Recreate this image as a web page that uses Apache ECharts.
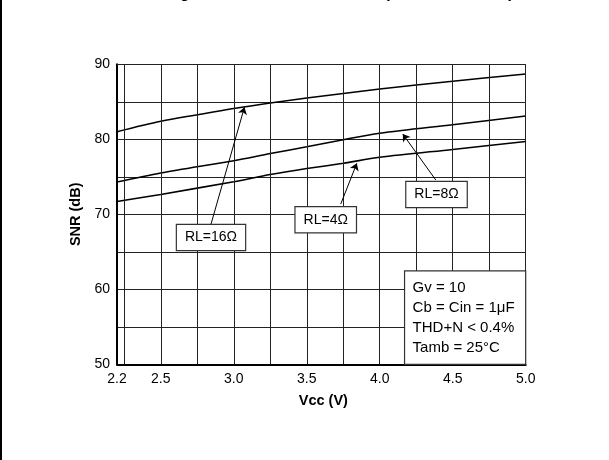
<!DOCTYPE html>
<html>
<head>
<meta charset="utf-8">
<script src="https://cdn.jsdelivr.net/npm/echarts@6/dist/echarts.min.js"></script>
<style>
html,body{margin:0;padding:0;background:#fff;}
#c{width:609px;height:460px;}
</style>
</head>
<body>
<div id="c"></div>
<script>
// ---- data ----
var vcc = [2.2, 2.5, 3.0, 3.25, 3.5, 3.75, 4.0, 4.5, 5.0];
var snrRL16 = [81.0, 82.4, 84.1, 84.85, 85.5, 86.1, 86.7, 87.75, 88.7];
var snrRL8  = [74.3, 75.5, 77.15, 78.1, 79.0, 79.95, 80.8, 81.95, 83.1];
var snrRL4  = [71.7, 72.65, 74.35, 75.3, 76.1, 76.8, 77.6, 78.65, 79.7];
var xTickLabels = [2.2, 2.5, 3.0, 3.5, 4.0, 4.5, 5.0];
var xGridValues = [2.25, 2.5, 2.75, 3.0, 3.25, 3.5, 3.75, 4.0, 4.25, 4.5, 4.75];
var yMin = 50, yMax = 90, yStep = 5;
var labelTexts = ['RL=16\u03A9', 'RL=4\u03A9', 'RL=8\u03A9'];
var infoLines = ['Gv = 10', 'Cb = Cin = 1\u03BCF', 'THD+N < 0.4%', 'Tamb = 25\u00B0C'];
var titleText = 'Signal to Noise Ratio vs Vcc (All Load Values)';

// ---- annotation placement (data coords) ----
var labelPos = [[2.844, 66.9], [3.630, 69.28], [4.389, 72.64]];
var arrows = [
  [[2.844, 68.7], [3.073, 84.27]],
  [[3.733, 71.37], [3.843, 76.8]],
  [[4.384, 74.57], [4.158, 80.7]]
];
var infoBox = [[4.17, 62.45], [5.0, 50]];

function pairs(xs, ys){ return xs.map(function(x,i){return [x, ys[i]];}); }

var FONT = 'Liberation Sans, Arial, sans-serif';
var chart = echarts.init(document.getElementById('c'), null, {renderer:'canvas'});

var lineStyle = {color:'#000', width:1.6};
var option = {
  animation:false,
  backgroundColor:'#fff',
  textStyle:{fontFamily:FONT},
  grid:{left:117, right:83.3, top:64.3, bottom:95.7, containLabel:false},
  xAxis:{
    type:'value', min:2.2, max:5.0,
    axisLine:{show:true, onZero:false, lineStyle:{color:'#000', width:2}},
    axisTick:{show:false},
    splitLine:{show:false},
    axisLabel:{customValues:xTickLabels, color:'#000', fontSize:14, margin:8, fontFamily:FONT,
      formatter:function(v){return v.toFixed(1);}},
    name:'Vcc (V)', nameLocation:'middle', nameGap:29,
    nameTextStyle:{fontWeight:'bold', fontSize:14.5, color:'#000', fontFamily:FONT, padding:[0,0,0,4]}
  },
  yAxis:{
    type:'value', min:yMin, max:yMax, interval:yStep,
    axisLine:{show:true, lineStyle:{color:'#000', width:2}},
    axisTick:{show:false},
    splitLine:{show:true, lineStyle:{color:'#222', width:1}},
    axisLabel:{color:'#000', fontSize:14, margin:7, fontFamily:FONT,
      formatter:function(v){return v % 10 === 0 ? String(v) : '';}},
    name:'SNR (dB)', nameLocation:'middle', nameGap:20, nameRotate:90,
    nameTextStyle:{fontWeight:'bold', fontSize:14.5, color:'#000', fontFamily:FONT}
  },
  series:[
    {
      type:'line', data:[], silent:true, z:1,
      markLine:{
        silent:true, symbol:['none','none'], animation:false,
        label:{show:false},
        lineStyle:{color:'#222', width:1, type:'solid'},
        data: xGridValues.map(function(v){return {xAxis:v};}).concat([{yAxis:yMax}, {xAxis:5.0}])
      }
    },
    {type:'line', name:'RL=16', data:pairs(vcc, snrRL16), symbol:'none', smooth:0.3, lineStyle:lineStyle, z:3},
    {type:'line', name:'RL=8', data:pairs(vcc, snrRL8), symbol:'none', smooth:0.3, lineStyle:lineStyle, z:3},
    {type:'line', name:'RL=4', data:pairs(vcc, snrRL4), symbol:'none', smooth:0.3, lineStyle:lineStyle, z:3},
    {
      type:'line', data:[], silent:true, z:6,
      markLine:{
        silent:true, symbol:['none','arrow'], symbolSize:7, animation:false,
        label:{show:false},
        itemStyle:{color:'#000'},
        lineStyle:{color:'#000', width:1, type:'solid'},
        data: arrows.map(function(a){return [{coord:a[0]}, {coord:a[1]}];})
      },
      markPoint:{
        silent:true, symbol:'rect', symbolSize:0,
        label:{show:true, position:'inside', color:'#000', fontSize:14, fontFamily:FONT,
          backgroundColor:'#fff', borderColor:'#333', borderWidth:1.2, padding:[6,8,5,8]},
        data: labelPos.map(function(p,i){return {coord:p, value:labelTexts[i], label:{formatter:labelTexts[i]}};})
      }
    }
  ]
};
chart.setOption(option);

// info box and title as graphics positioned through the grid's coordinate system
var p0 = chart.convertToPixel({gridIndex:0}, infoBox[0]);
var p1 = chart.convertToPixel({gridIndex:0}, infoBox[1]);
chart.setOption({
  graphic:[
    {type:'rect', id:'border', shape:{x:0, y:0, width:2, height:460}, style:{fill:'#000'}, silent:true, z:100},
    {type:'text', id:'title', x:165, y:-14.5, style:{text:titleText, font:'bold 16px ' + FONT, fill:'#000'}, silent:true, z:100},
    {type:'rect', id:'infoRect', z:100, silent:true,
      shape:{x:p0[0], y:p0[1], width:p1[0]-p0[0], height:p1[1]-p0[1]},
      style:{fill:'#fff', stroke:'#333', lineWidth:1.2}},
    {type:'text', id:'infoText', z:101, silent:true, x:p0[0]+8, y:p0[1]+7,
      style:{text:infoLines.join('\n'), font:'15px ' + FONT, fill:'#000', lineHeight:20}}
  ]
});
</script>
</body>
</html>
